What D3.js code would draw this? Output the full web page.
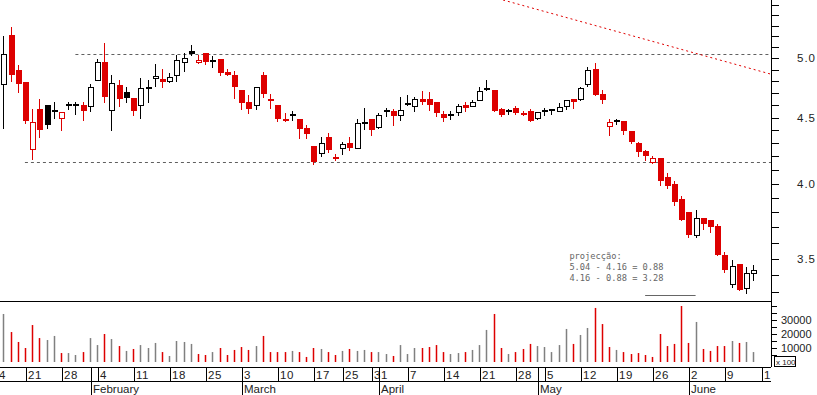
<!DOCTYPE html>
<html>
<head>
<meta charset="utf-8">
<script src="https://cdn.jsdelivr.net/npm/d3@7"></script>
<style>
body { margin: 0; background: #fff; }
svg text { font-family: "Liberation Sans", Arial, sans-serif; fill: #222; }
.note { font-family: "DejaVu Sans Mono", monospace; fill: #666; font-size: 8.7px; }
</style>
</head>
<body>
<svg id="chart" width="817" height="395"></svg>
<script>
// daily quotes, 16 Jan - 13 Jun 2008 ; axis starts on 14 Jan
var firstDay = "2008-01-14", lastDay = "2008-06-21";
var holidays = ["2008-03-21", "2008-03-24", "2008-05-01"];
var firstCandle = 2;

var open = [4.77,5.21,4.90,4.79,4.25,4.57,4.60,4.55,4.49,4.60,
            4.60,4.60,4.59,4.81,4.97,4.56,4.77,4.71,4.66,4.60,
            4.75,4.82,4.82,4.80,4.85,4.96,5.07,4.96,5.05,4.98,
            4.99,4.88,4.85,4.73,4.63,4.60,4.85,4.65,4.60,4.48,
            4.53,4.49,4.42,4.28,4.22,4.35,4.19,4.26,4.30,4.26,
            4.46,4.49,4.42,4.56,4.55,4.52,4.62,4.59,4.65,4.65,
            4.63,4.53,4.52,4.54,4.60,4.59,4.64,4.74,4.73,4.57,
            4.55,4.58,4.54,4.55,4.49,4.55,4.56,4.55,4.59,4.65,
            4.65,4.77,4.91,4.69,4.43,4.47,4.47,4.39,4.30,4.24,
            4.15,4.19,4.05,4.00,3.89,3.80,3.65,3.76,3.75,3.71,
            3.52,3.34,3.47,3.32,3.41];
var high = [5.20,5.29,4.94,4.79,4.57,4.65,4.60,4.63,4.54,4.63,
            4.63,4.63,4.78,4.99,5.14,4.85,4.81,4.75,4.66,4.83,
            4.81,4.95,4.91,4.87,5.03,5.05,5.12,5.03,5.05,5.02,
            4.99,4.91,4.89,4.73,4.68,4.75,4.88,4.69,4.60,4.54,
            4.55,4.49,4.44,4.28,4.35,4.38,4.22,4.31,4.35,4.49,
            4.58,4.49,4.54,4.58,4.57,4.67,4.68,4.67,4.72,4.71,
            4.63,4.55,4.55,4.61,4.63,4.64,4.75,4.81,4.73,4.58,
            4.57,4.59,4.55,4.57,4.54,4.58,4.56,4.62,4.64,4.65,
            4.75,4.92,4.96,4.73,4.49,4.49,4.47,4.39,4.31,4.25,
            4.20,4.19,4.08,4.02,3.91,3.80,3.82,3.76,3.75,3.72,
            3.54,3.49,3.47,3.45,3.46];
var low  = [4.42,4.80,4.71,4.46,4.18,4.35,4.42,4.50,4.40,4.57,
            4.53,4.48,4.55,4.81,4.63,4.40,4.59,4.63,4.52,4.50,
            4.63,4.76,4.75,4.79,4.80,4.89,5.03,4.96,4.95,4.92,
            4.85,4.85,4.66,4.57,4.54,4.57,4.67,4.58,4.47,4.47,
            4.48,4.34,4.34,4.14,4.20,4.23,4.17,4.22,4.25,4.26,
            4.41,4.36,4.42,4.51,4.44,4.48,4.60,4.55,4.61,4.56,
            4.51,4.47,4.49,4.52,4.55,4.59,4.64,4.73,4.55,4.51,
            4.53,4.53,4.52,4.47,4.49,4.52,4.53,4.55,4.57,4.58,
            4.64,4.76,4.68,4.62,4.36,4.45,4.37,4.30,4.20,4.17,
            4.15,3.99,3.97,3.85,3.75,3.64,3.64,3.69,3.67,3.52,
            3.42,3.33,3.31,3.29,3.37];
var close = [5.03,4.85,4.78,4.47,4.46,4.40,4.44,4.55,4.54,4.60,
             4.60,4.55,4.75,4.96,4.67,4.78,4.65,4.66,4.55,4.74,
             4.74,4.84,4.79,4.83,4.98,5.00,5.04,4.98,4.97,4.98,
             4.87,4.85,4.75,4.62,4.57,4.75,4.69,4.64,4.49,4.48,
             4.51,4.41,4.37,4.16,4.30,4.25,4.19,4.29,4.26,4.45,
             4.46,4.40,4.52,4.55,4.51,4.56,4.60,4.65,4.63,4.60,
             4.54,4.50,4.52,4.59,4.58,4.62,4.71,4.73,4.55,4.52,
             4.55,4.54,4.52,4.47,4.54,4.55,4.56,4.58,4.64,4.63,
             4.74,4.89,4.68,4.64,4.46,4.47,4.39,4.31,4.23,4.20,
             4.18,4.02,3.98,3.87,3.75,3.65,3.76,3.72,3.70,3.52,
             3.43,3.45,3.31,3.41,3.43];
// volume, x 100
var volume = [34300,21400,14300,10000,26400,17100,15700,18600,6400,6400,
              5000,7100,17100,12100,20000,16400,11400,7900,9300,12100,
              10000,13600,7100,4300,15000,14300,12900,5700,5000,7100,
              10000,5000,8600,10700,8600,11400,18600,7100,7100,7100,
              7900,7100,3600,10000,9300,7100,5000,7900,9300,7900,
              8600,7100,7100,5700,4300,12100,5700,10000,10000,10700,
              12100,7100,5700,6400,7100,8600,12100,22900,34300,10000,
              5700,7100,9300,12900,11400,10700,7100,12100,23600,12900,
              19300,24300,38600,27100,10700,8600,7100,5700,6400,5000,
              3600,20000,11400,12900,40000,13600,28600,9300,7900,11400,
              11400,15000,13600,14300,7100];

var levels = [5.04, 4.16];          // support / resistance
var levelStart = [12, 5];           // day index where each line starts
var trend = [[71.3, 5.547], [108.5, 4.86]];
var target = 3.28, targetSpan = [91, 98];
var priceTicks = [3.5, 4.0, 4.5, 5.0];
var volTicks = [10000, 20000, 30000];
var monthNames = ["January","February","March","April","May","June"];
var note = ["projecção:", "5.04 - 4.16 = 0.88", "4.16 - 0.88 = 3.28"];

var svg = d3.select("#chart");
var R = 771;

var fmt = d3.timeFormat("%Y-%m-%d"), parse = d3.timeParse("%Y-%m-%d");
var days = d3.timeDay.range(parse(firstDay), parse(lastDay)).filter(function(d) {
  var w = d.getDay();
  return w > 0 && w < 6 && holidays.indexOf(fmt(d)) < 0;
});

var x = d3.scaleLinear().domain([2, 106]).range([3.3, 753.3]);
var y = d3.scaleLog().domain([3.246, 5.547]).range([301, 0]);
var vy = d3.scaleLinear().domain([0, 40000]).range([362, 306]);

svg.append("clipPath").attr("id", "clip")
  .append("rect").attr("x", 0).attr("y", 0).attr("width", R).attr("height", 395);
var plot = svg.append("g").attr("clip-path", "url(#clip)");

var candles = close.map(function(c, i) {
  return { i: i + firstCandle, o: open[i], h: high[i], l: low[i], c: c, v: volume[i],
           red: i > 0 && c < close[i - 1] };
});
function cx(d) { return Math.round(x(d.i)); }
function col(d) { return d.red ? "#dd0000" : "#000"; }

// horizontal levels
plot.selectAll("line.level").data(levels).enter().append("line")
  .attr("x1", function(d, k) { return x(levelStart[k]); })
  .attr("x2", R)
  .attr("y1", function(d) { return Math.round(y(d)) + 0.5; })
  .attr("y2", function(d) { return Math.round(y(d)) + 0.5; })
  .attr("stroke", "#606060").attr("stroke-dasharray", "3,3");

// trend line
plot.append("line")
  .attr("x1", x(trend[0][0])).attr("y1", y(trend[0][1]))
  .attr("x2", x(trend[1][0])).attr("y2", y(trend[1][1]))
  .attr("stroke", "#e00000").attr("stroke-dasharray", "2,3");

// projection target
plot.append("line")
  .attr("x1", x(targetSpan[0])).attr("x2", x(targetSpan[1]))
  .attr("y1", Math.round(y(target)) + 0.5).attr("y2", Math.round(y(target)) + 0.5)
  .attr("stroke", "#666");

plot.append("g").selectAll("text").data(note).enter().append("text")
  .attr("class", "note")
  .attr("x", x(80.5))
  .attr("y", function(d, k) { return y(3.5) + k * 11; })
  .text(function(d) { return d; });

// volume
plot.append("g").selectAll("rect").data(candles).enter().append("rect")
  .attr("x", function(d) { return cx(d) - 0.25; })
  .attr("width", 1.5)
  .attr("y", function(d) { return vy(d.v); })
  .attr("height", function(d) { return vy(0) - vy(d.v); })
  .attr("fill", function(d) { return d.red ? "#dd0000" : "#808080"; });

// candles
var g = plot.append("g").attr("shape-rendering", "crispEdges")
  .selectAll("g").data(candles).enter().append("g");

g.append("line")
  .attr("x1", function(d) { return cx(d) + 0.5; })
  .attr("x2", function(d) { return cx(d) + 0.5; })
  .attr("y1", function(d) { return y(d.h); })
  .attr("y2", function(d) { return y(d.l) + 1; })
  .attr("stroke", col);

g.filter(function(d) { return d.c === d.o; }).append("rect")
  .attr("x", function(d) { return cx(d) - 2; })
  .attr("width", 6)
  .attr("y", function(d) { return Math.round(y(d.c)) - 1; })
  .attr("height", 2)
  .attr("fill", col);

g.filter(function(d) { return d.c < d.o; }).append("rect")
  .attr("x", function(d) { return cx(d) - 2; })
  .attr("width", 6)
  .attr("y", function(d) { return y(d.o); })
  .attr("height", function(d) { return Math.max(2, y(d.c) - y(d.o)); })
  .attr("fill", col);

g.filter(function(d) { return d.c > d.o; }).append("rect")
  .attr("x", function(d) { return cx(d) - 1.5; })
  .attr("width", 5)
  .attr("y", function(d) { return y(d.c); })
  .attr("height", function(d) { return Math.max(2, y(d.o) - y(d.c)); })
  .attr("fill", "#fff")
  .attr("stroke", col);

// frame lines
var frame = svg.append("g").attr("stroke", "#000").attr("shape-rendering", "crispEdges");
[301, 367, 381].forEach(function(v) {
  frame.append("line").attr("x1", 0).attr("x2", R).attr("y1", v + 0.5).attr("y2", v + 0.5);
});
frame.append("line").attr("x1", R + 0.5).attr("x2", R + 0.5).attr("y1", 0).attr("y2", 367);

// price axis
var minor = d3.range(33, 56).map(function(k) { return k / 10; });
frame.selectAll("line.pt").data(minor).enter().append("line")
  .attr("x1", R).attr("x2", R + 8)
  .attr("y1", function(d) { return Math.round(y(d)) + 0.5; })
  .attr("y2", function(d) { return Math.round(y(d)) + 0.5; });
svg.append("g").selectAll("text").data(priceTicks).enter().append("text")
  .attr("x", 797).attr("y", function(d) { return y(d); })
  .attr("dy", "0.35em").attr("font-size", 11.5).attr("letter-spacing", 1)
  .text(function(d) { return d.toFixed(1); });

// volume axis
frame.selectAll("line.vt").data(d3.range(5000, 40001, 5000)).enter().append("line")
  .attr("x1", R).attr("x2", R + 6)
  .attr("y1", function(d) { return Math.round(vy(d)) + 0.5; })
  .attr("y2", function(d) { return Math.round(vy(d)) + 0.5; });
svg.append("g").selectAll("text").data(volTicks).enter().append("text")
  .attr("x", 781).attr("y", function(d) { return vy(d); })
  .attr("dy", "0.35em").attr("font-size", 11)
  .text(function(d) { return d; });
svg.append("rect").attr("x", 774.5).attr("y", 356.5).attr("width", 21).attr("height", 10)
  .attr("fill", "#fff").attr("stroke", "#000");
svg.append("text").attr("x", 776).attr("y", 364.5).attr("font-size", 8).text("x 100");

// date axis
var dates = days.map(function(d, i) { return i; });
var weekStarts = dates.filter(function(i) {
  return i === 0 || d3.timeMonday.floor(days[i]) > days[i - 1];
});
var monthStarts = dates.filter(function(i) {
  return i > 0 && days[i].getMonth() !== days[i - 1].getMonth();
});
var axis = plot.append("g");
axis.selectAll("line.w").data(weekStarts).enter().append("line")
  .attr("x1", function(i) { return Math.round(x(i)) + 1.5; })
  .attr("x2", function(i) { return Math.round(x(i)) + 1.5; })
  .attr("y1", 367).attr("y2", 381).attr("stroke", "#000");
axis.selectAll("text.w").data(weekStarts).enter().append("text")
  .attr("x", function(i) { return Math.round(x(i)) + 3; })
  .attr("y", 378.5).attr("font-size", 11.5).attr("letter-spacing", 0.5)
  .text(function(i) { return days[i].getDate(); });
axis.selectAll("line.m").data(monthStarts).enter().append("line")
  .attr("x1", function(i) { return Math.round(x(i)) + 1.5; })
  .attr("x2", function(i) { return Math.round(x(i)) + 1.5; })
  .attr("y1", 367).attr("y2", 395).attr("stroke", "#000");
axis.selectAll("text.m").data(monthStarts).enter().append("text")
  .attr("x", function(i) { return Math.round(x(i)) + 3; })
  .attr("y", 392.5).attr("font-size", 11.5)
  .text(function(i) { return monthNames[days[i].getMonth()]; });
</script>
</body>
</html>
